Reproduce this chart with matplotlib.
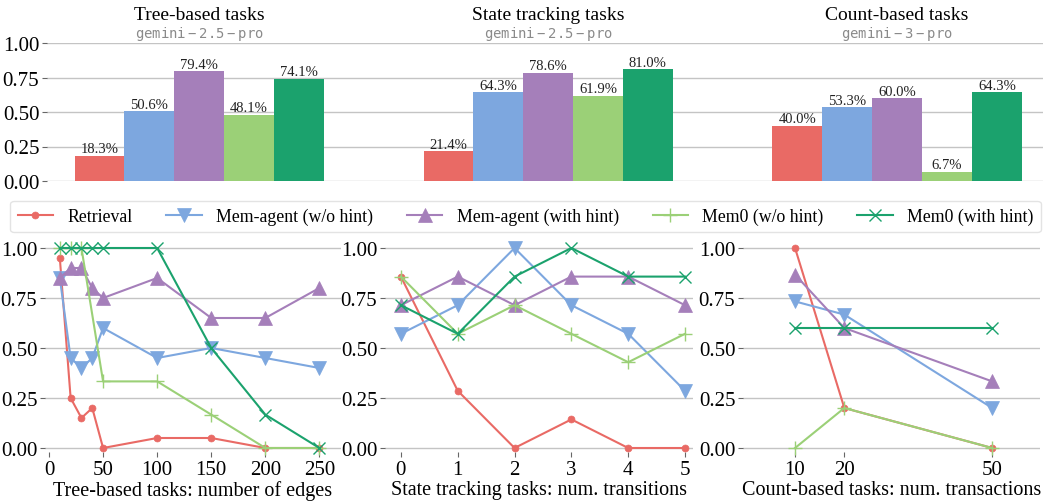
import matplotlib
matplotlib.use("Agg")
import matplotlib.pyplot as plt
import numpy as np

plt.rcParams['font.family'] = ['Liberation Serif', 'DejaVu Serif']
plt.rcParams['mathtext.fontset'] = 'dejavusans'

methods = ["Retrieval", "Mem-agent (w/o hint)", "Mem-agent (with hint)", "Mem0 (w/o hint)", "Mem0 (with hint)"]
colors = ["#E96A65", "#7DA7DF", "#A57FBA", "#9BD077", "#1BA26D"]
markers = ["o", "v", "^", "+", "x"]
msizes = [5, 10, 10, 10, 9]

# Top bar chart
task_names = ["Tree-based tasks", "State tracking tasks", "Count-based tasks"]
model_names = ["gemini-2.5-pro", "gemini-2.5-pro", "gemini-3-pro"]
bar_tree = [18.3, 50.6, 79.4, 48.1, 74.1]
bar_state = [21.4, 64.3, 78.6, 61.9, 81.0]
bar_count = [40.0, 53.3, 60.0, 6.7, 64.3]

# Bottom line charts
tree_x = [10, 20, 30, 40, 50, 100, 150, 200, 250]
tree_retrieval = [0.95, 0.25, 0.15, 0.20, 0.0, 0.05, 0.05, 0.0, 0.0]
tree_mem_nohint = [0.85, 0.45, 0.40, 0.45, 0.60, 0.45, 0.50, 0.45, 0.40]
tree_mem_hint = [0.85, 0.90, 0.90, 0.80, 0.75, 0.85, 0.65, 0.65, 0.80]
tree_mem0_x = [10, 20, 30, 50, 100, 150, 200, 250]
tree_mem0_nohint = [1.0, 1.0, 1.0, 0.333, 0.333, 0.167, 0.0, 0.0]
tree_mem0_hint = [1.0, 1.0, 1.0, 1.0, 1.0, 1.0, 0.5, 0.167, 0.0]

state_x = [0, 1, 2, 3, 4, 5]
state_retrieval = [0.857, 0.286, 0.0, 0.143, 0.0, 0.0]
state_mem_nohint = [0.571, 0.714, 1.0, 0.714, 0.571, 0.286]
state_mem_hint = [0.714, 0.857, 0.714, 0.857, 0.857, 0.714]
state_mem0_nohint = [0.857, 0.571, 0.714, 0.571, 0.429, 0.571]
state_mem0_hint = [0.714, 0.571, 0.857, 1.0, 0.857, 0.857]

count_x = [10, 20, 50]
count_retrieval = [1.0, 0.2, 0.0]
count_mem_nohint = [0.733, 0.667, 0.2]
count_mem_hint = [0.867, 0.6, 0.333]
count_mem0_nohint = [0.0, 0.2, 0.0]
count_mem0_hint = [0.6, 0.6, 0.6]

xlabels = ["Tree-based tasks: number of edges", "State tracking tasks: num. transitions",
           "Count-based tasks: num. transactions"]

W, H = 1047, 502
fig = plt.figure(figsize=(W / 100, H / 100), dpi=100)

def rect(x0, x1, ytop, ybot):
    return [x0 / W, 1 - ybot / H, (x1 - x0) / W, (ybot - ytop) / H]

grid_color = "#c4c4c4"
TICK_FS = 15

def style(ax):
    for s in ax.spines.values():
        s.set_visible(False)
    ax.yaxis.grid(True, color=grid_color, linewidth=1.0)
    ax.xaxis.grid(False)
    ax.set_axisbelow(True)
    ax.tick_params(axis='both', labelsize=TICK_FS, color="#666666", length=3.5, width=0.8, pad=2)

# ---- top bars
axb = fig.add_axes(rect(47, 1043, 44, 182))
style(axb)
bw = 1 / 7
groups = [bar_tree, bar_state, bar_count]
for gi, vals in enumerate(groups):
    for mi, v in enumerate(vals):
        xc = gi + (mi - 2) * bw
        axb.bar(xc, v / 100, width=bw, color=colors[mi], linewidth=0)
        axb.text(xc, v / 100 + 0.004, f"{v:.1f}%", ha="center", va="bottom", fontsize=10.5, color="#222222")
    axb.text(gi, 1.203, task_names[gi], ha="center", va="center", fontsize=14, clip_on=False)
    axb.text(gi, 1.075, r"$\mathtt{" + model_names[gi] + "}$", ha="center", va="center", fontsize=10,
             color="#8a8a8a", clip_on=False)
axb.set_xlim(-0.436, 2.418)
axb.set_ylim(0, 1.0)
axb.set_xticks([])
axb.set_yticks([0, 0.25, 0.5, 0.75, 1.0])
axb.set_yticklabels(["0.00", "0.25", "0.50", "0.75", "1.00"])

# ---- bottom lines
panels = [
    ([tree_x, tree_x, tree_x, tree_mem0_x, tree_x],
     [tree_retrieval, tree_mem_nohint, tree_mem_hint, tree_mem0_nohint, tree_mem0_hint],
     (45, 341), (-3.7, 270), [0, 50, 100, 150, 200, 250]),
    ([state_x] * 5,
     [state_retrieval, state_mem_nohint, state_mem_hint, state_mem0_nohint, state_mem0_hint],
     (385, 693), (-0.28, 5.14), [0, 1, 2, 3, 4, 5]),
    ([count_x] * 5,
     [count_retrieval, count_mem_nohint, count_mem_hint, count_mem0_nohint, count_mem0_hint],
     (743, 1040), (-0.56, 59.7), [10, 20, 50]),
]
handles = []
for pi, (xss, series, (x0, x1), xlim, xt) in enumerate(panels):
    ax = fig.add_axes(rect(x0, x1, 245, 453))
    style(ax)
    for mi, ys in enumerate(series):
        h, = ax.plot(xss[mi], ys, color=colors[mi], marker=markers[mi], markersize=msizes[mi],
                     linewidth=1.5, markeredgewidth=1.0 if markers[mi] in "+x" else 0.5,
                     clip_on=False, label=methods[mi])
        if pi == 0:
            handles.append(h)
    ax.set_xlim(*xlim)
    ax.set_ylim(-0.02, 1.02)
    ax.set_xticks(xt)
    ax.set_yticks([0, 0.25, 0.5, 0.75, 1.0])
    ax.set_yticklabels(["0.00", "0.25", "0.50", "0.75", "1.00"])
    ax.set_xlabel(xlabels[pi], fontsize=14.5, labelpad=1)

fig.legend(handles=handles, loc="center", ncol=5,
           bbox_to_anchor=(525.5 / W, 1 - 217.5 / H),
           fontsize=12.8, frameon=True, fancybox=True, edgecolor="#dddddd",
           handlelength=2.0, handletextpad=0.8, columnspacing=1.9,
           borderpad=0.4, borderaxespad=0)

fig.savefig("out.png", dpi=100)
